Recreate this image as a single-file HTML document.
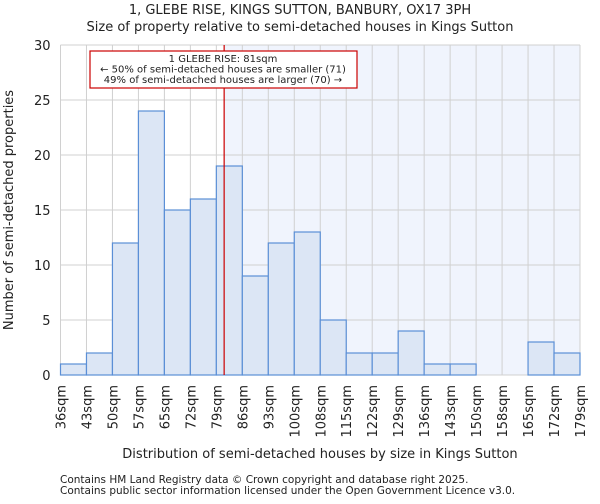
<!DOCTYPE html>
<html><head><meta charset="utf-8"><style>
body{margin:0;background:#fff;font-family:"DejaVu Sans","Liberation Sans",sans-serif}
svg text{font-family:"DejaVu Sans","Liberation Sans",sans-serif;fill:#222}
</style></head><body>
<svg id="chart" width="600" height="500" xmlns="http://www.w3.org/2000/svg">
<text x="300" y="14" font-size="13" text-anchor="middle">1, GLEBE RISE, KINGS SUTTON, BANBURY, OX17 3PH</text>
<text x="300" y="31" font-size="13" text-anchor="middle">Size of property relative to semi-detached houses in Kings Sutton</text>
<g id="plot"></g>
<text x="320" y="458" font-size="13" text-anchor="middle">Distribution of semi-detached houses by size in Kings Sutton</text>
<text transform="translate(13,210) rotate(-90)" font-size="13" text-anchor="middle">Number of semi-detached properties</text>
<text x="60" y="483" font-size="10.5" fill="#444">Contains HM Land Registry data © Crown copyright and database right 2025.</text>
<text x="60" y="494" font-size="10.5" fill="#444">Contains public sector information licensed under the Open Government Licence v3.0.</text>
</svg>
<script>
const labels=["36sqm","43sqm","50sqm","57sqm","65sqm","72sqm","79sqm","86sqm","93sqm","100sqm","108sqm","115sqm","122sqm","129sqm","136sqm","143sqm","150sqm","158sqm","165sqm","172sqm","179sqm"];
const counts=[1,2,12,24,15,16,19,9,12,13,5,2,2,4,1,1,0,0,3,2];
const yTicks=[0,5,10,15,20,25,30];
const propertyBinPos=6.3;
const NS="http://www.w3.org/2000/svg";
const L=60.5,R=580,T=45,B=375,yMax=30;
const n=counts.length,bw=(R-L)/n;
const x=i=>L+i*bw;
const y=v=>B-(v/yMax)*(B-T);
const g=document.getElementById('plot');
function mk(t,a){const e=document.createElementNS(NS,t);for(const k in a)e.setAttribute(k,a[k]);g.appendChild(e);return e;}
const px=x(propertyBinPos);
let e=mk('rect',{x:px,y:T,width:R-px,height:B-T,fill:'#f0f4fd'});


for(let i=0;i<=n;i++){e=mk('line',{x1:x(i),x2:x(i),y1:T,y2:B,stroke:'#d0d0d0'});

}
yTicks.forEach(t=>{e=mk('line',{x1:L,x2:R,y1:y(t),y2:y(t),stroke:'#d0d0d0'});


e=mk('text',{x:L-10,y:y(t)+5,'font-size':13,'text-anchor':'end'});e.textContent=t;

});
counts.forEach((c,i)=>{if(c<=0)return;e=mk('rect',{x:x(i),y:y(c),width:bw,height:B-y(c),fill:'#dce6f5',stroke:'#5b8fd6','stroke-width':1.2});

});
labels.forEach((l,i)=>{e=mk('text',{transform:`translate(${x(i)+5},${B+10}) rotate(-90)`,'font-size':13,'text-anchor':'end'});e.textContent=l;

});
e=mk('line',{x1:px,x2:px,y1:T,y2:B,stroke:'#cc0000','stroke-width':1.2});


e=mk('rect',{x:90,y:51,width:267,height:37,fill:'#fff',stroke:'#cc0000','stroke-width':1.2});


["1 GLEBE RISE: 81sqm","← 50% of semi-detached houses are smaller (71)","49% of semi-detached houses are larger (70) →"].forEach((t,k)=>{e=mk('text',{x:223,y:62+k*10.5,'font-size':10,'text-anchor':'middle'});e.textContent=t;

});
</script>
</body></html>
